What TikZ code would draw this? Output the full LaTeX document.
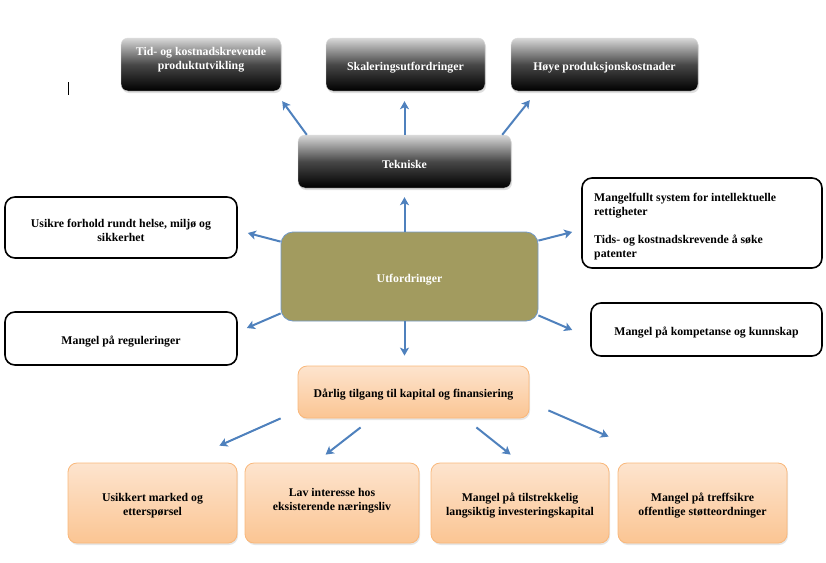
\documentclass[tikz,border=0pt]{standalone}
\usepackage{fontspec}
\setmainfont{Liberation Serif}
\usetikzlibrary{arrows.meta,shadows}
\definecolor{arrblue}{HTML}{4F81BD}
\definecolor{olive}{HTML}{A29B5F}
\definecolor{orborder}{HTML}{F9B77A}
\definecolor{ortop}{HTML}{FDE4CE}
\definecolor{orbot}{HTML}{FBC593}
\tikzset{
  txt/.style={font=\bfseries\fontsize{11.8}{14}\selectfont},
  darkbox/.style={rounded corners=7pt, draw=gray!30, line width=0.4pt,
    top color=gray!30, bottom color=black, middle color=black!72,
    drop shadow={shadow xshift=1pt,shadow yshift=-2pt,opacity=0.25}, inner sep=0pt},
  whitebox/.style={rounded corners=10pt, draw=black, line width=1.6pt, fill=white, inner sep=0pt},
  orbox/.style={rounded corners=9pt, draw=orborder, line width=0.8pt,
    top color=ortop, bottom color=orbot,
    drop shadow={shadow xshift=1pt,shadow yshift=-2pt,opacity=0.2}, inner sep=0pt},
  lbl/.style={txt, align=center, inner sep=0pt, yshift=-3pt},
  wlbl/.style={lbl, text=white},
  arr/.style={draw=arrblue, line width=2pt, -{Stealth[length=8pt,width=9pt,inset=2pt]}},
}
\begin{document}
\begin{tikzpicture}[x=1pt,y=-1pt]
\useasboundingbox (0,0) rectangle (826,562);
% top boxes
\node[darkbox, minimum width=160pt, minimum height=53pt] (top1) at (201,64.5) {};
\node[wlbl] (top1t) at (201,57) {Tid- og kostnadskrevende\\produktutvikling};
\node[darkbox, minimum width=159pt, minimum height=53pt] (top2) at (405.5,64.5) {};
\node[wlbl] (top2t) at (top2.center) {Skaleringsutfordringer};
\node[darkbox, minimum width=187pt, minimum height=53pt] (top3) at (604.5,64.5) {};
\node[wlbl] (top3t) at (top3.center) {Høye produksjonskostnader};
\node[darkbox, minimum width=213pt, minimum height=53pt] (tek) at (404.5,161.5) {};
\node[wlbl] (tekt) at (tek.center) {Tekniske};
% cursor mark
\coordinate (cur1) at (68,82);
\coordinate (cur2) at (68,95);
\draw[line width=0.8pt] (cur1) -- (cur2);
% central
\node[rounded corners=12pt, draw=arrblue!80, line width=0.8pt, fill=olive,
  minimum width=257pt, minimum height=89pt, inner sep=0pt] (utf) at (409.5,276.5) {};
\node[wlbl] (utft) at (utf.center) {Utfordringer};
% side boxes
\node[whitebox, minimum width=232pt, minimum height=61pt] (l1) at (121,227.5) {};
\node[lbl] (l1t) at (l1.center) {Usikre forhold rundt helse, miljø og\\sikkerhet};
\node[whitebox, minimum width=232pt, minimum height=53pt] (l2) at (121,338.5) {};
\node[lbl] (l2t) at (l2.center) {Mangel på reguleringer};
\node[whitebox, minimum width=240pt, minimum height=90pt] (r1) at (702,223) {};
\node[lbl, align=left, anchor=west] (r1t) at (594,223.5) {Mangelfullt system for intellektuelle\\rettigheter\\[14pt]Tids- og kostnadskrevende å søke\\patenter};
\node[whitebox, minimum width=231pt, minimum height=53pt] (r2) at (706.5,329.5) {};
\node[lbl] (r2t) at (r2.center) {Mangel på kompetanse og kunnskap};
% finance
\node[orbox, minimum width=231pt, minimum height=52pt] (fin) at (413.5,392) {};
\node[lbl] (fint) at (fin.center) {Dårlig tilgang til kapital og finansiering};
\node[orbox, minimum width=169pt, minimum height=80pt] (b1) at (152.5,503) {};
\node[lbl] (b1t) at (b1.center) {Usikkert marked og\\etterspørsel};
\node[orbox, minimum width=174pt, minimum height=80pt] (b2) at (332,503) {};
\node[lbl] (b2t) at (332,498) {Lav interesse hos\\eksisterende næringsliv};
\node[orbox, minimum width=178pt, minimum height=80pt] (b3) at (520,503) {};
\node[lbl] (b3t) at (b3.center) {Mangel på tilstrekkelig\\langsiktig investeringskapital};
\node[orbox, minimum width=169pt, minimum height=80pt] (b4) at (702.5,503) {};
\node[lbl] (b4t) at (b4.center) {Mangel på treffsikre\\offentlige støtteordninger};
% arrows (canvas shifts: positive yshift = up)
\draw[arr] ([xshift=9pt]tek.north west) -- ([xshift=1pt,yshift=-10pt]top1.south east);
\draw[arr] (tek.north) -- ([yshift=-10pt]tek.north |- top2.south);
\draw[arr] ([xshift=-9pt]tek.north east) -- ([xshift=19pt,yshift=-9pt]top3.south west);
\draw[arr] (tek.south |- utf.north) -- ([yshift=-9pt]tek.south);
\draw[arr] ([yshift=-10pt]utf.north west) -- ([xshift=10pt,yshift=-5.5pt]l1.east);
\draw[arr] ([yshift=-9pt]utf.north east) -- ([xshift=-9pt,yshift=-9pt]r1.west);
\draw[arr] ([yshift=8pt]utf.south west) -- ([xshift=9pt,yshift=10.5pt]l2.east);
\draw[arr] ([yshift=6pt]utf.south east) -- ([xshift=-18pt,yshift=-0.5pt]r2.west);
\draw[arr] (tek.south |- utf.south) -- ([yshift=10pt]tek.south |- fin.north);
\draw[arr] ([xshift=-17pt]fin.south west) -- ([xshift=-18pt,yshift=17pt]b1.north east);
\draw[arr] ([xshift=63pt,yshift=-9pt]fin.south west) -- ([xshift=81pt,yshift=8pt]b2.north west);
\draw[arr] ([xshift=-53pt,yshift=-9pt]fin.south east) -- ([xshift=80pt,yshift=8pt]b3.north west);
\draw[arr] ([xshift=19pt,yshift=8pt]fin.south east) -- ([xshift=-9pt,yshift=26pt]b4.north west);
\end{tikzpicture}
\end{document}
